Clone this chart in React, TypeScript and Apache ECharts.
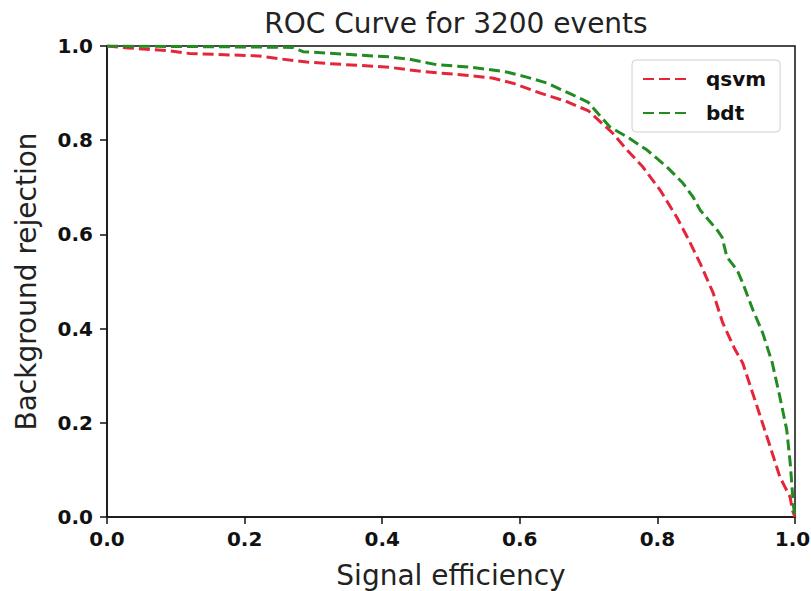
import React, { useEffect, useRef } from "react";
import * as echarts from "echarts";

const titleText = "ROC Curve for 3200 events";
const xAxisName = "Signal efficiency";
const yAxisName = "Background rejection";
const seriesNames = ["qsvm", "bdt"];

const qsvmX = [0, 0.03, 0.09, 0.12, 0.22, 0.25, 0.29, 0.34, 0.41, 0.44, 0.48, 0.53, 0.56, 0.59, 0.63, 0.67, 0.7, 0.735, 0.756, 0.779, 0.804, 0.828, 0.845, 0.862, 0.881, 0.895, 0.913, 0.924, 0.945, 0.964, 0.978, 0.993, 0.996, 1.0];
const qsvmY = [1.0, 0.996, 0.99, 0.984, 0.979, 0.973, 0.966, 0.961, 0.955, 0.949, 0.943, 0.937, 0.932, 0.921, 0.9, 0.881, 0.862, 0.815, 0.779, 0.743, 0.694, 0.637, 0.59, 0.539, 0.476, 0.412, 0.355, 0.327, 0.234, 0.149, 0.085, 0.042, 0.015, 0.0];

const bdtX = [0, 0.1, 0.2, 0.27, 0.285, 0.34, 0.41, 0.44, 0.48, 0.53, 0.58, 0.61, 0.64, 0.677, 0.699, 0.731, 0.756, 0.785, 0.814, 0.837, 0.852, 0.862, 0.887, 0.894, 0.901, 0.916, 0.924, 0.939, 0.953, 0.967, 0.978, 0.988, 0.993, 0.996, 0.998, 1.0];
const bdtY = [1.0, 0.999, 0.998, 0.997, 0.988, 0.983, 0.977, 0.972, 0.96, 0.955, 0.945, 0.934, 0.921, 0.896, 0.881, 0.828, 0.807, 0.779, 0.743, 0.709, 0.679, 0.652, 0.609, 0.594, 0.552, 0.524, 0.497, 0.439, 0.391, 0.327, 0.255, 0.185, 0.115, 0.057, 0.021, 0.0];

const colors = ["#e3263a", "#228b22"];
const FONT = "DejaVu Sans";

function pairs(xs: number[], ys: number[]) {
  return xs.map((x, i) => [x, ys[i]]);
}

export default function App() {
  const ref = useRef<HTMLDivElement>(null);
  useEffect(() => {
    if (!ref.current) return;
    const chart = echarts.init(ref.current, null, { renderer: "svg" });
    const labelStyle = {
      color: "#111",
      fontFamily: FONT,
      fontWeight: "bold" as const,
      fontSize: 20,
    };
    const axisCommon = {
      type: "value" as const,
      min: 0,
      max: 1,
      interval: 0.2,
      splitLine: { show: false },
      axisLine: { show: true, lineStyle: { color: "#111", width: 1.5 } },
      axisTick: { show: true, inside: false, length: 7, lineStyle: { color: "#111", width: 1.5 } },
      nameLocation: "middle" as const,
      nameTextStyle: { color: "#222", fontFamily: FONT, fontSize: 28 },
    };
    chart.setOption({
      animation: false,
      backgroundColor: "#fff",
      title: {
        text: titleText,
        left: 451,
        top: 4,
        textAlign: "center",
        textStyle: { fontFamily: FONT, fontSize: 28, fontWeight: "normal", color: "#222" },
      },
      grid: {
        left: 107,
        right: 16,
        top: 46,
        bottom: 74,
        outerBoundsMode: "none",
        containLabel: false,
        show: true,
        borderColor: "#111",
        borderWidth: 1.5,
        backgroundColor: "transparent",
      },
      legend: {
        orient: "vertical",
        left: 632,
        top: 60,
        padding: [9, 14, 9, 10],
        itemWidth: 43,
        itemHeight: 14,
        itemGap: 14,
        backgroundColor: "rgba(255,255,255,0.8)",
        borderColor: "#d0d0d0",
        borderWidth: 1,
        borderRadius: 4,
        itemStyle: { opacity: 0 },
        textStyle: { fontFamily: FONT, fontWeight: "bold", fontSize: 20, color: "#111", padding: [0, 0, 0, 15] },
        data: seriesNames,
      },
      xAxis: {
        ...axisCommon,
        name: xAxisName,
        nameGap: 44,
        axisLabel: {
          ...labelStyle,
          margin: 12,
          formatter: (v: number) => (v >= 1 ? "{r|" + v.toFixed(1) + "}" : v.toFixed(1)),
          rich: { r: { ...labelStyle, padding: [0, 5, 0, 0] } },
        },
      },
      yAxis: {
        ...axisCommon,
        name: yAxisName,
        nameGap: 67,
        axisLabel: { ...labelStyle, margin: 14, formatter: (v: number) => v.toFixed(1) },
      },
      series: [
        {
          name: seriesNames[0],
          type: "line",
          data: pairs(qsvmX, qsvmY),
          showSymbol: false,
          symbol: "none",
          color: colors[0],
          lineStyle: { color: colors[0], width: 3, type: [11, 5] },
        },
        {
          name: seriesNames[1],
          type: "line",
          data: pairs(bdtX, bdtY),
          showSymbol: false,
          symbol: "none",
          color: colors[1],
          lineStyle: { color: colors[1], width: 3, type: [11, 5] },
        },
      ],
    });
    return () => chart.dispose();
  }, []);
  return <div ref={ref} style={{ position: "fixed", left: 0, top: 0, width: 811, height: 591 }} />;
}
